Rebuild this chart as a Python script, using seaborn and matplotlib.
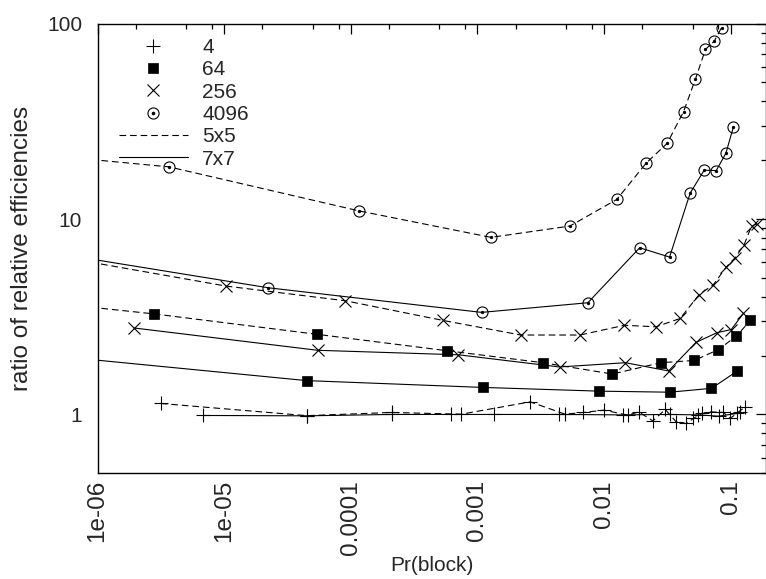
import matplotlib
matplotlib.use('Agg')
import numpy as np
import pandas as pd
import matplotlib.pyplot as plt
import seaborn as sns
from matplotlib.lines import Line2D
from matplotlib.ticker import FixedLocator, NullFormatter

# --- data (Pr(block), ratio) ---
# block size 4
x_4_5x5 = [3.16e-6, 4.49e-5, 2.11e-4, 7.44e-4, 2.61e-3, 4.93e-3, 6.88e-3, 0.01002, 0.0154,
           0.0188, 0.0243, 0.0304, 0.0371, 0.0445, 0.0508, 0.0592, 0.0698, 0.0877, 0.0991, 0.130]
y_4_5x5 = [1.138, 0.986, 1.024, 1.003, 1.16, 1.003, 1.024, 1.052, 0.992,
           1.031, 0.927, 1.061, 0.917, 0.899, 0.954, 1.012, 1.031, 1.024, 0.954, 1.094]
x_4_7x7 = [6.85e-6, 4.49e-5, 2.11e-4, 6.17e-4, 1.36e-3, 4.44e-3, 0.01408, 0.0329,
           0.0551, 0.0802, 0.112, 0.119]
y_4_7x7 = [0.988, 0.984, 1.0, 1.0, 1.0, 1.0, 0.995, 1.0,
           0.995, 0.980, 1.012, 1.031]

# block size 64
x_64_5x5 = [5e-7, 2.81e-6, 5.45e-5, 5.73e-4, 3.29e-3, 0.01165, 0.028, 0.0516, 0.0801, 0.111, 0.143]
y_64_5x5 = [3.68, 3.27, 2.57, 2.12, 1.84, 1.61, 1.84, 1.89, 2.15, 2.52, 3.03]
x_64_7x7 = [5e-7, 4.49e-5, 1.11e-3, 9.2e-3, 0.0329, 0.0705, 0.113]
y_64_7x7 = [1.98, 1.49, 1.375, 1.316, 1.30, 1.36, 1.67]

# block size 256
x_256_5x5 = [5e-7, 1.035e-5, 9.02e-5, 5.33e-4, 2.20e-3, 6.44e-3, 0.0145, 0.0257, 0.0399,
             0.0564, 0.0731, 0.0921, 0.1086, 0.1278, 0.146, 0.161]
y_256_5x5 = [6.42, 4.54, 3.82, 3.03, 2.55, 2.55, 2.86, 2.81, 3.10,
             4.11, 4.62, 5.68, 6.35, 7.40, 9.21, 9.43]
x_256_7x7 = [1.95e-6, 5.48e-5, 7.08e-4, 4.45e-3, 0.01475, 0.0323, 0.0533, 0.0778, 0.101, 0.126]
y_256_7x7 = [2.77, 2.13, 2.02, 1.75, 1.84, 1.67, 2.34, 2.62, 2.72, 3.29]

# block size 4096
x_4096_5x5 = [5e-7, 3.67e-6, 1.17e-4, 1.28e-3, 5.37e-3, 0.0126, 0.0216, 0.0315, 0.0424,
              0.0527, 0.0632, 0.0741, 0.0846]
y_4096_5x5 = [20.9, 18.5, 11.0, 8.06, 9.21, 12.6, 19.4, 24.4, 35.4,
              52.1, 73.9, 81.3, 95.4]
x_4096_7x7 = [5e-7, 2.23e-5, 1.08e-3, 7.45e-3, 0.0191, 0.0329, 0.0479, 0.0618, 0.0768, 0.0916, 0.105]
y_4096_7x7 = [6.63, 4.45, 3.33, 3.73, 7.13, 6.39, 13.6, 17.8, 17.7, 21.7, 29.6]

block_labels = ['4', '64', '256', '4096']
grid_labels = ['5x5', '7x7']
x_ticks = [1e-6, 1e-5, 1e-4, 1e-3, 1e-2, 1e-1]
x_tick_labels = ['1e-06', '1e-05', '0.0001', '0.001', '0.01', '0.1']
y_ticks = [1, 10, 100]
y_tick_labels = ['1', '10', '100']

series = {
    ('4', '5x5'): (x_4_5x5, y_4_5x5), ('4', '7x7'): (x_4_7x7, y_4_7x7),
    ('64', '5x5'): (x_64_5x5, y_64_5x5), ('64', '7x7'): (x_64_7x7, y_64_7x7),
    ('256', '5x5'): (x_256_5x5, y_256_5x5), ('256', '7x7'): (x_256_7x7, y_256_7x7),
    ('4096', '5x5'): (x_4096_5x5, y_4096_5x5), ('4096', '7x7'): (x_4096_7x7, y_4096_7x7),
}
frames = [pd.DataFrame({'x': xs, 'y': ys, 'block': b, 'grid': g}) for (b, g), (xs, ys) in series.items()]
df = pd.concat(frames, ignore_index=True)

# --- style ---
sns.set_style("white")
plt.rcParams['font.family'] = ['Liberation Sans', 'DejaVu Sans']
plt.rcParams['font.size'] = 15
rot_size = 17.5  # rotated texts come out bigger in the reference

dash = (0, (6, 3.5))
line_styles = {'5x5': dash, '7x7': '-'}
marker_kws = {
    '4': dict(marker='+', ms=10, mec='k', mew=0.8),
    '64': dict(marker='s', ms=7.5, mfc='k', mec='k', mew=0.5),
    '256': dict(marker='x', ms=8, mec='k', mew=0.8),
    '4096': dict(marker='o', ms=8, mfc='none', mec='k', mew=0.8),
}

fig = plt.figure(figsize=(7.66, 5.79), dpi=100)
ax = fig.add_axes([0.1273, 0.1826, 0.8727, 0.7765])

for (b, g), grp in df.groupby(['block', 'grid'], sort=False):
    sns.lineplot(data=grp, x='x', y='y', estimator=None, sort=False, color='k', lw=0.8,
                 ls=line_styles[g], ax=ax, **marker_kws[b])
    if b == '4096':
        # centre dot of the circle markers
        sns.lineplot(data=grp, x='x', y='y', estimator=None, sort=False, color='k', lw=0,
                     marker='o', ms=1.6, mec='k', ax=ax)

ax.set_xscale('log')
ax.set_yscale('log')
ax.set_xlim(1e-6, 0.19)
ax.set_ylim(0.5, 100)

ax.set_xticks(x_ticks, x_tick_labels, rotation=90, fontsize=rot_size)
minor_x = [m * d for d in [1e-6, 1e-5, 1e-4, 1e-3, 1e-2, 1e-1] for m in (2, 5, 8)]
ax.xaxis.set_minor_locator(FixedLocator(minor_x))
ax.xaxis.set_minor_formatter(NullFormatter())
ax.set_yticks(y_ticks, y_tick_labels)
minor_y = [m * d for d in [0.1, 1, 10] for m in range(2, 10)]
ax.yaxis.set_minor_locator(FixedLocator(minor_y))
ax.yaxis.set_minor_formatter(NullFormatter())

ax.tick_params(which='both', direction='in', top=True, right=True, color='k', width=0.9)
ax.tick_params(which='major', length=7.5)
ax.tick_params(which='minor', length=3.8)
ax.tick_params(axis='y', which='major', pad=11)
ax.tick_params(axis='x', which='major', pad=5)
for s in ax.spines.values():
    s.set_color('k')
    s.set_linewidth(1.0)

ax.set_xlabel('Pr(block)', labelpad=1)
ax.set_ylabel('ratio of relative efficiencies', fontsize=rot_size, labelpad=10)

# --- key ---
handles = [
    Line2D([], [], ls='none', color='k', **marker_kws['4']),
    Line2D([], [], ls='none', color='k', **marker_kws['64']),
    Line2D([], [], ls='none', color='k', **marker_kws['256']),
    (Line2D([], [], ls='none', color='k', **marker_kws['4096']),
     Line2D([], [], ls='none', color='k', marker='o', ms=1.6, mec='k')),
    Line2D([], [], color='k', lw=0.8, ls=dash),
    Line2D([], [], color='k', lw=0.8, ls='-'),
]
ax.legend(handles, block_labels + grid_labels, loc='upper left', frameon=False,
          bbox_to_anchor=(0.032, 0.968), borderaxespad=0, borderpad=0,
          handlelength=3.3, handletextpad=0.7, labelspacing=0.16)

fig.savefig('out.png', dpi=100)
